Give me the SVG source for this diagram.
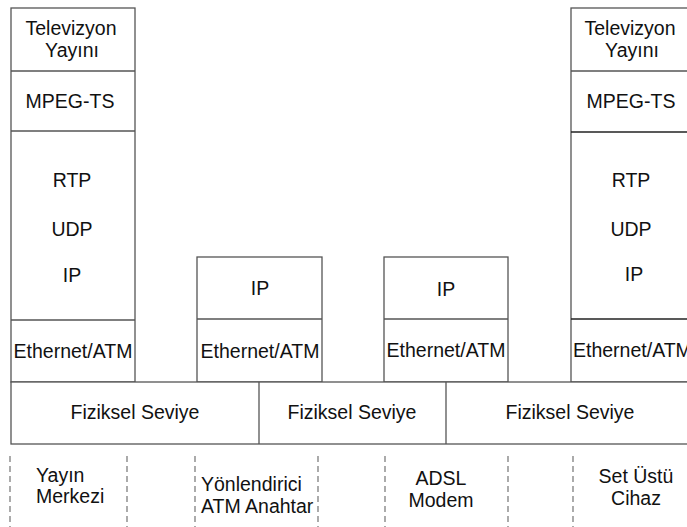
<svg xmlns="http://www.w3.org/2000/svg" width="687" height="527" viewBox="0 0 687 527">
<style>
.b{fill:#fff;stroke:#555;stroke-width:1.3}
.l{stroke:#555;stroke-width:1.3;fill:none}
.d{stroke:#666;stroke-width:1.1;stroke-dasharray:6 4;fill:none}
text{font-family:"Liberation Sans",Arial,sans-serif;font-size:19.5px;fill:#111}
.c{text-anchor:middle}
</style>
<rect width="687" height="527" fill="#fff"/>
<g id="yayin-merkezi">
<rect class="b" x="11" y="8" width="124" height="374"/>
<line class="l" x1="11" y1="71" x2="135" y2="71"/>
<line class="l" x1="11" y1="131" x2="135" y2="131"/>
<line class="l" x1="11" y1="320" x2="135" y2="320"/>
<text class="c" x="71" y="35">Televizyon</text>
<text class="c" x="72" y="57">Yayını</text>
<text class="c" x="70" y="108">MPEG-TS</text>
<text class="c" x="72" y="187">RTP</text>
<text class="c" x="72" y="236">UDP</text>
<text class="c" x="72" y="282">IP</text>
<text class="c" x="73" y="358">Ethernet/ATM</text>
</g>
<g id="yonlendirici">
<rect class="b" x="197" y="257" width="125" height="125"/>
<line class="l" x1="197" y1="319" x2="322" y2="319"/>
<text class="c" x="260" y="295">IP</text>
<text class="c" x="260" y="358">Ethernet/ATM</text>
</g>
<g id="adsl-modem">
<rect class="b" x="384" y="257" width="124" height="125"/>
<line class="l" x1="384" y1="319" x2="508" y2="319"/>
<text class="c" x="446" y="296">IP</text>
<text class="c" x="446" y="357">Ethernet/ATM</text>
</g>
<g id="set-ustu">
<rect class="b" x="571" y="8" width="130" height="374"/>
<line class="l" x1="571" y1="71" x2="701" y2="71"/>
<line class="l" x1="571" y1="132" x2="701" y2="132" style="stroke:#222"/>
<line class="l" x1="571" y1="319" x2="701" y2="319" style="stroke:#222"/>
<text class="c" x="630" y="35">Televizyon</text>
<text class="c" x="632" y="57">Yayını</text>
<text class="c" x="631" y="108">MPEG-TS</text>
<text class="c" x="631" y="187">RTP</text>
<text class="c" x="631" y="236">UDP</text>
<text class="c" x="634" y="281">IP</text>
<text x="573" y="357">Ethernet/ATM</text>
</g>
<g id="fiziksel">
<rect class="b" x="11" y="382" width="690" height="62"/>
<line class="l" x1="259" y1="382" x2="259" y2="444"/>
<line class="l" x1="446" y1="382" x2="446" y2="444"/>
<text class="c" x="135" y="419">Fiziksel Seviye</text>
<text class="c" x="352" y="419">Fiziksel Seviye</text>
<text class="c" x="570" y="419">Fiziksel Seviye</text>
</g>
<g id="connectors">
<line class="d" x1="10" y1="456" x2="10" y2="527"/>
<line class="d" x1="127" y1="456" x2="127" y2="527"/>
<line class="d" x1="195" y1="456" x2="195" y2="527"/>
<line class="d" x1="318" y1="456" x2="318" y2="527"/>
<line class="d" x1="385" y1="456" x2="385" y2="527"/>
<line class="d" x1="508" y1="456" x2="508" y2="527"/>
<line class="d" x1="573" y1="456" x2="573" y2="527"/>
</g>
<g id="labels">
<text x="36" y="482">Yayın</text>
<text x="36" y="503">Merkezi</text>
<text x="201" y="491">Yönlendirici</text>
<text x="201" y="513">ATM Anahtar</text>
<text class="c" x="441" y="485">ADSL</text>
<text class="c" x="441" y="507">Modem</text>
<text class="c" x="636" y="483">Set Üstü</text>
<text class="c" x="636" y="505">Cihaz</text>
</g>
</svg>
